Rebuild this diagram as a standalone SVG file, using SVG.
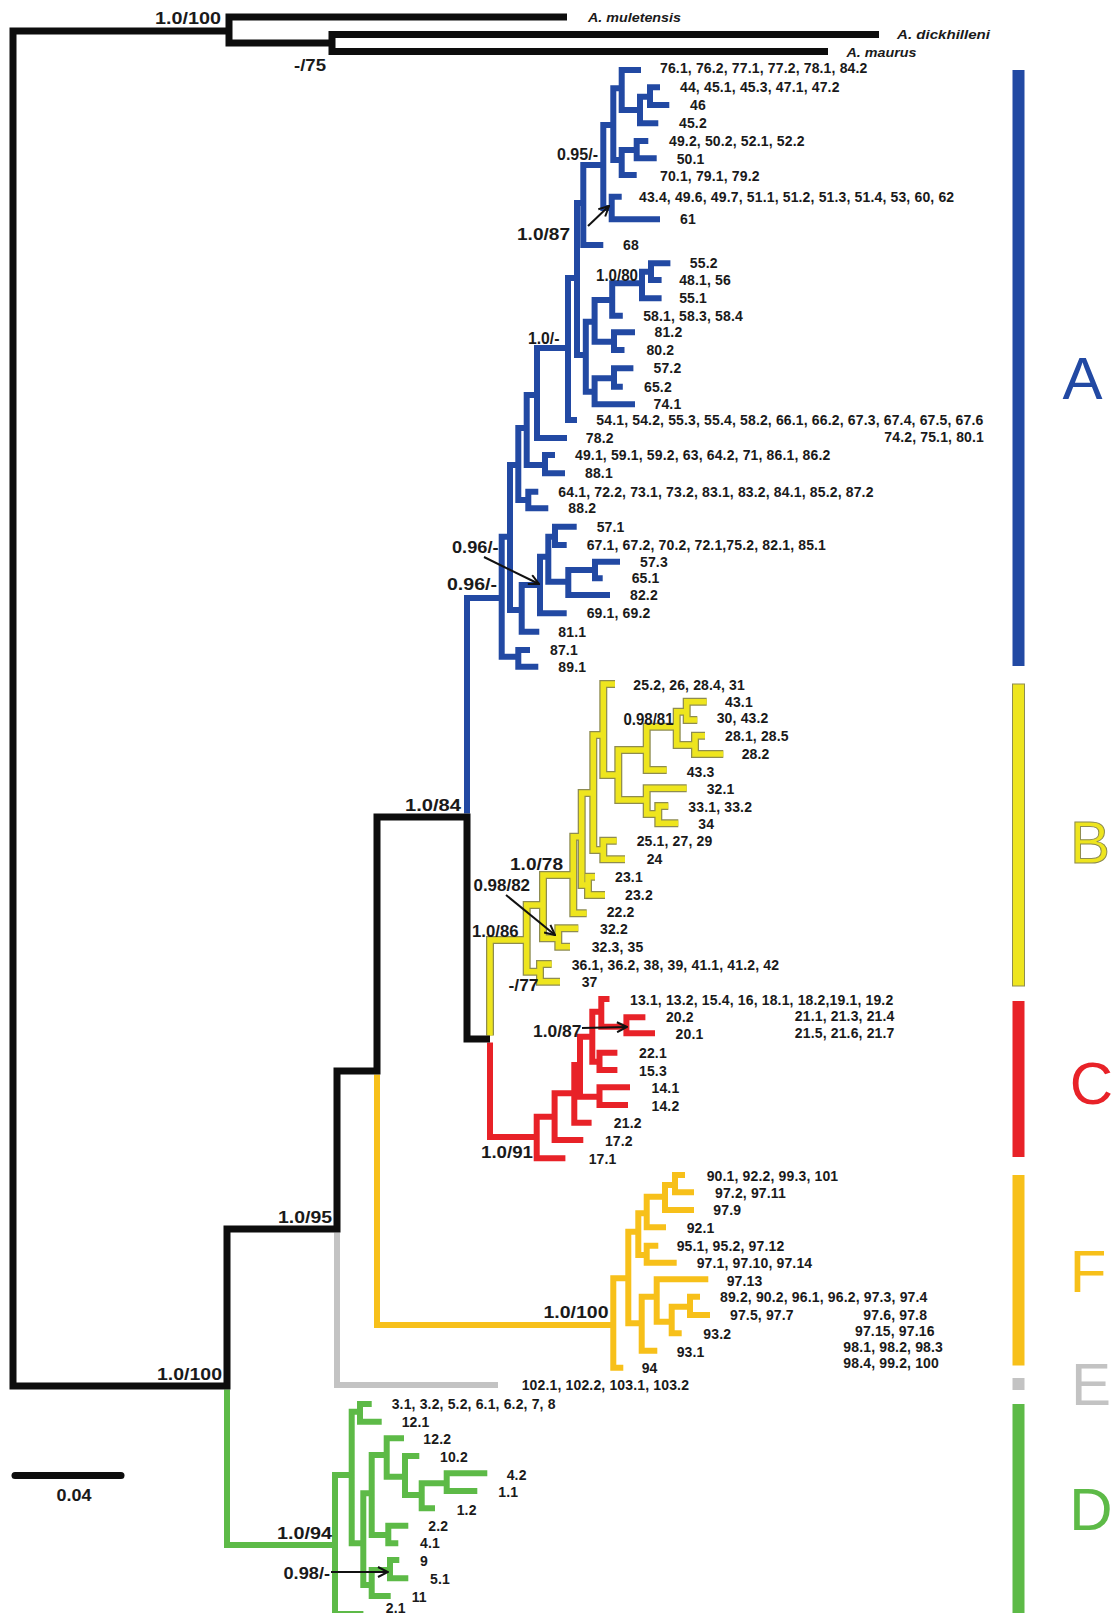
<svg xmlns="http://www.w3.org/2000/svg" width="1119" height="1613" viewBox="0 0 1119 1613">
<style>
.br{fill:none;stroke-width:6;stroke-linejoin:miter;stroke-linecap:butt}
.k{stroke:#0d0d0d;stroke-width:7}
.bl{stroke:#2249a3}
.rd{stroke:#e82228}
.or{stroke:#f7c01a}
.gy{stroke:#c3c3c3}
.gn{stroke:#5dba47}
.yo{fill:none;stroke:#8e8c50;stroke-width:8;stroke-linejoin:miter}
.yf{fill:none;stroke:#eee51e;stroke-width:5.5;stroke-linejoin:miter}
text{font-family:"Liberation Sans",Arial,sans-serif;font-weight:bold;fill:#1a1a1a}
.t{font-size:14px;letter-spacing:0.15px}
.s{font-size:17px}
.sp{font-size:12px;font-style:italic}
.big{font-size:60px;font-weight:normal;text-anchor:middle}
.ar{fill:none;stroke:#111;stroke-width:2}
</style>
<defs>
<marker id="ah" viewBox="0 0 12 12" refX="11" refY="6" markerWidth="12" markerHeight="12" markerUnits="userSpaceOnUse" orient="auto">
<path d="M1,1 L11,6 L1,11" fill="none" stroke="#111" stroke-width="2"/>
</marker>
<path id="yellowTree" d="M526.7,940 H490 V1035.5
M543,905 H526.7 V971.7 H540
M551.7,964 H540 V981.7 H560
M573.3,875 H543 V938.3 H558.3
M578.3,928.3 H558.3 V946.7 H570
M581.7,836.7 H573.3 V913.3 H586.7
M593.3,793 H581.7 V885 H588
M595,876.7 H588 V895 H605
M603.3,735 H593.3 V850 H603.3
M616.7,840.7 H603.3 V859.3 H625
M615,684 H603.3 V775 H618.3
M646.7,750 H618.3 V800 H646.7
M676.7,726.7 H646.7 V770 H666.7
M686.7,711.7 H676.7 V745 H695
M706.7,701.7 H686.7 V720 H697.3
M705,735.7 H695 V754 H723.3
M686.7,788.3 H646.7 V814 H658.3
M668.3,806 H658.3 V823.3 H678.3"/>
</defs>
<rect width="1119" height="1613" fill="#ffffff"/>

<g id="connectors">
<g id="branches-A">
<path class="br bl" d="M501.7,598 H467 V813.5
M510,536.7 H501.7 V656.7 H518.3
M530,650 H518.3 V666.7 H538.3
M518.3,465 H510 V610 H521.7
M526.7,428 H518.3 V500 H528.3
M538.3,491.7 H528.3 V508.3 H548.3
M537,395 H526.7 V465 H545
M555,455 H545 V473.3 H565
M568,348 H537 V438 H567
M577,278 H568 V420 H577
M583.3,203 H577 V355 H585.8
M603.3,165 H583.3 V245 H603.3
M613.3,125 H603.3 V208 H611.7
M621.7,196.7 H611.7 V219.3 H660
M621.7,88.3 H613.3 V160 H621.7
M641,70 H621.7 V110 H640
M650,96.7 H640 V123.3 H658.3
M660,87.3 H650 V105 H669.3
M636.7,150 H621.7 V175 H636.7
M648.3,141 H636.7 V158.3 H656.7
M594.6,321.7 H585.8 V391.7 H594.6
M612.2,300 H594.6 V341.7 H614
M642,283.3 H612.2 V315.7 H622.8
M651,271.7 H642 V298.3 H661.6
M670.4,263.3 H651 V280 H661.6
M635,332.3 H614 V350 H624.5
M614,378.3 H594.6 V404.3 H635
M633.4,368.3 H614 V386.7 H622.8
M540,585 H521.7 V631.7 H539.3
M548.3,556.7 H540 V613.3 H566.7
M555,536.7 H548.3 V581.7 H568.3
M576.7,526.7 H555 V545 H566.7
M595,570 H568.3 V595 H610
M620,561.7 H595 V578.3 H602.7"/>
</g>
<g id="branches-B">
<use href="#yellowTree" class="yo"/>
<use href="#yellowTree" class="yf"/>
</g>
<g id="branches-C">
<path class="br rd" d="M490,1042.5 V1137 H536.7
M554.6,1116.7 H536.7 V1158.3 H565.4
M574.3,1093.3 H554.6 V1140 H583.3
M580,1065 H574.3 V1122.7 H591.6
M592.3,1036.7 H580 V1096.7 H599.5
M630,1087.3 H599.5 V1105 H628
M601.3,1011.7 H592.3 V1061.7 H599.5
M617.4,1052.7 H599.5 V1070 H617.4
M609.5,999 H601.3 V1026.7 H626.4
M645.4,1017.3 H626.4 V1033.3 H655"/>
</g>
<g id="branches-F">
<path class="br or" d="M377,1074.5 V1325 H613.3
M628.3,1278.3 H613.3 V1367.7 H623.3
M638.3,1231.7 H628.3 V1323.3 H641.7
M646.7,1213.3 H638.3 V1255 H646.7
M665,1196.7 H646.7 V1227.3 H666
M675,1185 H665 V1210 H694
M685,1175 H675 V1192.3 H694
M658.3,1245.7 H646.7 V1262.7 H676.7
M656.7,1296.7 H641.7 V1350.7 H657.3
M708.3,1279.3 H656.7 V1321.7 H671.7
M690,1306.7 H671.7 V1333.3 H681.7
M700,1296.7 H690 V1315 H710"/>
</g>
<g id="branches-E">
<path class="br gy" d="M337,1232.5 V1385 H498"/>
</g>
<g id="branches-D">
<path class="br gn" d="M227,1389.5 V1545 H335
M351.7,1475 H335 V1614 H363.4
M360,1411.7 H351.7 V1543.3 H363.3
M371.7,1404 H360 V1421.7 H381.7
M371.7,1493.3 H363.3 V1585 H371.7
M386.7,1455 H371.7 V1535 H388.3
M404,1438.3 H386.7 V1476.7 H405
M419.3,1456 H405 V1495 H421.7
M446.7,1483.3 H421.7 V1508.3 H435
M487.3,1473.3 H446.7 V1491 H477.3
M408.3,1525.7 H388.3 V1543.3 H398.3
M390,1570 H371.7 V1596 H390.7
M399.3,1560 H390 V1578.3 H408.3"/>
</g>
<g id="branches-backbone">
<path class="br k" d="M229,31 H13 V1386 H227 V1229 H337 V1071 H377 V817 H467 V1039 H490"/>
<path class="br k" d="M567,17 H229 V43 H332"/>
<path class="br k" d="M879,34.5 H332 V51.5 H828"/>
</g>
<g id="support-arrows">
<path class="ar" d="M588,226 L609,206" marker-end="url(#ah)"/>
<path class="ar" d="M484,557 L539,584" marker-end="url(#ah)"/>
<path class="ar" d="M506,895 L555,935" marker-end="url(#ah)"/>
<path class="ar" d="M582,1028 L627,1027" marker-end="url(#ah)"/>
<path class="ar" d="M331,1572 L388,1572" marker-end="url(#ah)"/>
</g>
</g>

<g id="outgroups">
<text class="sp" x="588" y="21.5" textLength="93" lengthAdjust="spacingAndGlyphs">A. muletensis</text>
<text class="sp" x="897" y="39" textLength="93" lengthAdjust="spacingAndGlyphs">A. dickhilleni</text>
<text class="sp" x="846.5" y="56.5" textLength="70" lengthAdjust="spacingAndGlyphs">A. maurus</text>
</g>

<g id="tips-A">
<text class="t" x="660" y="73.3">76.1, 76.2, 77.1, 77.2, 78.1, 84.2</text>
<text class="t" x="680" y="92.3">44, 45.1, 45.3, 47.1, 47.2</text>
<text class="t" x="690" y="110">46</text>
<text class="t" x="679" y="127.7">45.2</text>
<text class="t" x="669" y="146">49.2, 50.2, 52.1, 52.2</text>
<text class="t" x="676.7" y="164">50.1</text>
<text class="t" x="660" y="181">70.1, 79.1, 79.2</text>
<text class="t" x="639" y="202.3">43.4, 49.6, 49.7, 51.1, 51.2, 51.3, 51.4, 53, 60, 62</text>
<text class="t" x="680" y="224.3">61</text>
<text class="t" x="623" y="250">68</text>
<text class="t" x="689.8" y="268.3">55.2</text>
<text class="t" x="679.2" y="285">48.1, 56</text>
<text class="t" x="679.2" y="303.3">55.1</text>
<text class="t" x="643.2" y="320.7">58.1, 58.3, 58.4</text>
<text class="t" x="654.5" y="337.3">81.2</text>
<text class="t" x="646.4" y="355">80.2</text>
<text class="t" x="653.5" y="373.3">57.2</text>
<text class="t" x="644" y="391.7">65.2</text>
<text class="t" x="653.5" y="409.3">74.1</text>
<text class="t" x="596.3" y="425">54.1, 54.2, 55.3, 55.4, 58.2, 66.1, 66.2, 67.3, 67.4, 67.5, 67.6</text>
<text class="t" x="984" y="442.3" text-anchor="end">74.2, 75.1, 80.1</text>
<text class="t" x="585.8" y="443">78.2</text>
<text class="t" x="575" y="460">49.1, 59.1, 59.2, 63, 64.2, 71, 86.1, 86.2</text>
<text class="t" x="585" y="478.3">88.1</text>
<text class="t" x="558.3" y="496.7">64.1, 72.2, 73.1, 73.2, 83.1, 83.2, 84.1, 85.2, 87.2</text>
<text class="t" x="568.3" y="513.3">88.2</text>
<text class="t" x="596.7" y="531.7">57.1</text>
<text class="t" x="586.7" y="550">67.1, 67.2, 70.2, 72.1,75.2, 82.1, 85.1</text>
<text class="t" x="640" y="566.7">57.3</text>
<text class="t" x="631.7" y="583.3">65.1</text>
<text class="t" x="630" y="600">82.2</text>
<text class="t" x="586.7" y="618.3">69.1, 69.2</text>
<text class="t" x="558.3" y="636.7">81.1</text>
<text class="t" x="550" y="655">87.1</text>
<text class="t" x="558.3" y="671.7">89.1</text>
</g>

<g id="tips-B">
<text class="t" x="633.3" y="690">25.2, 26, 28.4, 31</text>
<text class="t" x="725" y="707.3">43.1</text>
<text class="t" x="716.7" y="723.3">30, 43.2</text>
<text class="t" x="725" y="741">28.1, 28.5</text>
<text class="t" x="741.7" y="759">28.2</text>
<text class="t" x="686.7" y="776.7">43.3</text>
<text class="t" x="706.7" y="794.3">32.1</text>
<text class="t" x="688.3" y="811.7">33.1, 33.2</text>
<text class="t" x="698.3" y="829">34</text>
<text class="t" x="636.7" y="845.7">25.1, 27, 29</text>
<text class="t" x="646.7" y="864.3">24</text>
<text class="t" x="615" y="881.7">23.1</text>
<text class="t" x="625" y="900">23.2</text>
<text class="t" x="606.7" y="916.7">22.2</text>
<text class="t" x="600" y="934.3">32.2</text>
<text class="t" x="591.7" y="951.7">32.3, 35</text>
<text class="t" x="571.7" y="970">36.1, 36.2, 38, 39, 41.1, 41.2, 42</text>
<text class="t" x="581.7" y="986.7">37</text>
</g>

<g id="tips-C">
<text class="t" x="630" y="1005">13.1, 13.2, 15.4, 16, 18.1, 18.2,19.1, 19.2</text>
<text class="t" x="894.5" y="1021" text-anchor="end">21.1, 21.3, 21.4</text>
<text class="t" x="894.5" y="1037.5" text-anchor="end">21.5, 21.6, 21.7</text>
<text class="t" x="665.9" y="1022.3">20.2</text>
<text class="t" x="675.6" y="1039">20.1</text>
<text class="t" x="639" y="1058.3">22.1</text>
<text class="t" x="639" y="1075.7">15.3</text>
<text class="t" x="651.5" y="1093.3">14.1</text>
<text class="t" x="651.5" y="1110.7">14.2</text>
<text class="t" x="613.8" y="1128.3">21.2</text>
<text class="t" x="604.9" y="1145.7">17.2</text>
<text class="t" x="588.7" y="1164">17.1</text>
</g>

<g id="tips-F">
<text class="t" x="706.7" y="1181">90.1, 92.2, 99.3, 101</text>
<text class="t" x="715" y="1198.3">97.2, 97.11</text>
<text class="t" x="713.3" y="1215">97.9</text>
<text class="t" x="686.7" y="1233.3">92.1</text>
<text class="t" x="676.7" y="1250.7">95.1, 95.2, 97.12</text>
<text class="t" x="696.7" y="1267.7">97.1, 97.10, 97.14</text>
<text class="t" x="726.7" y="1285.7">97.13</text>
<text class="t" x="720" y="1302.3">89.2, 90.2, 96.1, 96.2, 97.3, 97.4</text>
<text class="t" x="730" y="1320">97.5, 97.7</text>
<text class="t" x="863.3" y="1320">97.6, 97.8</text>
<text class="t" x="703.3" y="1339">93.2</text>
<text class="t" x="855" y="1335.7">97.15, 97.16</text>
<text class="t" x="676.7" y="1356.7">93.1</text>
<text class="t" x="843.3" y="1351.7">98.1, 98.2, 98.3</text>
<text class="t" x="641.7" y="1373.3">94</text>
<text class="t" x="843.3" y="1368.3">98.4, 99.2, 100</text>
</g>

<g id="tips-E">
<text class="t" x="521.7" y="1390">102.1, 102.2, 103.1, 103.2</text>
</g>

<g id="tips-D">
<text class="t" x="391.7" y="1409">3.1, 3.2, 5.2, 6.1, 6.2, 7, 8</text>
<text class="t" x="401.7" y="1427">12.1</text>
<text class="t" x="423.3" y="1444.3">12.2</text>
<text class="t" x="440" y="1462.3">10.2</text>
<text class="t" x="506.7" y="1480">4.2</text>
<text class="t" x="498.3" y="1497.3">1.1</text>
<text class="t" x="456.7" y="1515">1.2</text>
<text class="t" x="428.3" y="1531">2.2</text>
<text class="t" x="420" y="1548.3">4.1</text>
<text class="t" x="420" y="1566">9</text>
<text class="t" x="430" y="1584">5.1</text>
<text class="t" x="411.7" y="1601.7">11</text>
<text class="t" x="385.8" y="1612.5">2.1</text>
</g>

<g id="supports">
<text class="s" x="155" y="24" font-size="16" textLength="66" lengthAdjust="spacingAndGlyphs">1.0/100</text>
<text class="s" x="294" y="71" textLength="32" lengthAdjust="spacingAndGlyphs">-/75</text>
<text class="s" x="557" y="160" font-size="15" textLength="41" lengthAdjust="spacingAndGlyphs">0.95/-</text>
<text class="s" x="517" y="240" font-size="18" textLength="53" lengthAdjust="spacingAndGlyphs">1.0/87</text>
<text class="s" x="596" y="281" font-size="16" textLength="42" lengthAdjust="spacingAndGlyphs">1.0/80</text>
<text class="s" x="528" y="344" font-size="16" textLength="31.5" lengthAdjust="spacingAndGlyphs">1.0/-</text>
<text class="s" x="452" y="553" textLength="46.5" lengthAdjust="spacingAndGlyphs">0.96/-</text>
<text class="s" x="447" y="590" font-size="18" textLength="50" lengthAdjust="spacingAndGlyphs">0.96/-</text>
<text class="s" x="405" y="811" font-size="18" textLength="56" lengthAdjust="spacingAndGlyphs">1.0/84</text>
<text class="s" x="623.5" y="724.5" font-size="15" textLength="50" lengthAdjust="spacingAndGlyphs">0.98/81</text>
<text class="s" x="510" y="869.5" font-size="18" textLength="53" lengthAdjust="spacingAndGlyphs">1.0/78</text>
<text class="s" x="473.5" y="891" font-size="16" textLength="56.5" lengthAdjust="spacingAndGlyphs">0.98/82</text>
<text class="s" x="472" y="936.5" font-size="16" textLength="46.5" lengthAdjust="spacingAndGlyphs">1.0/86</text>
<text class="s" x="508.5" y="990.5" textLength="30" lengthAdjust="spacingAndGlyphs">-/77</text>
<text class="s" x="533" y="1036.5" textLength="48.5" lengthAdjust="spacingAndGlyphs">1.0/87</text>
<text class="s" x="481" y="1158" font-size="18" textLength="52" lengthAdjust="spacingAndGlyphs">1.0/91</text>
<text class="s" x="278" y="1222.5" font-size="18" textLength="54" lengthAdjust="spacingAndGlyphs">1.0/95</text>
<text class="s" x="543.5" y="1317.5" font-size="18" textLength="65" lengthAdjust="spacingAndGlyphs">1.0/100</text>
<text class="s" x="157" y="1380" font-size="18" textLength="65" lengthAdjust="spacingAndGlyphs">1.0/100</text>
<text class="s" x="277" y="1539" font-size="18" textLength="55" lengthAdjust="spacingAndGlyphs">1.0/94</text>
<text class="s" x="283.5" y="1578.5" font-size="16" textLength="46.5" lengthAdjust="spacingAndGlyphs">0.98/-</text>
</g>

<g id="scale-bar">
<path d="M15,1475.5 H121" stroke="#0d0d0d" stroke-width="7" stroke-linecap="round" fill="none"/>
<text class="s" x="56.5" y="1501" textLength="35" lengthAdjust="spacingAndGlyphs">0.04</text>
</g>

<g id="clade-bars">
<g id="clade-A"><rect x="1012.5" y="70" width="12" height="596" fill="#2249a3"/><text class="big" x="1082.5" y="399" style="fill:#2249a3">A</text></g>
<g id="clade-B"><rect x="1012.5" y="684" width="12" height="302" fill="#eee51e" stroke="#8e8c50" stroke-width="1"/><text class="big" x="1090" y="863" style="fill:#eee51e;stroke:#8e8c50;stroke-width:1">B</text></g>
<g id="clade-C"><rect x="1012.5" y="1001" width="12" height="156" fill="#e82228"/><text class="big" x="1091.5" y="1104" style="fill:#e82228">C</text></g>
<g id="clade-F"><rect x="1012.5" y="1175" width="12" height="190.5" fill="#f7c01a"/><text class="big" x="1088" y="1292" style="fill:#f7c01a">F</text></g>
<g id="clade-E"><rect x="1012.5" y="1378" width="12" height="12" fill="#c3c3c3"/><text class="big" x="1091" y="1405" style="fill:#c3c3c3">E</text></g>
<g id="clade-D"><rect x="1012.5" y="1404" width="12" height="209" fill="#5dba47"/><text class="big" x="1091" y="1530" style="fill:#5dba47">D</text></g>
</g>
</svg>
